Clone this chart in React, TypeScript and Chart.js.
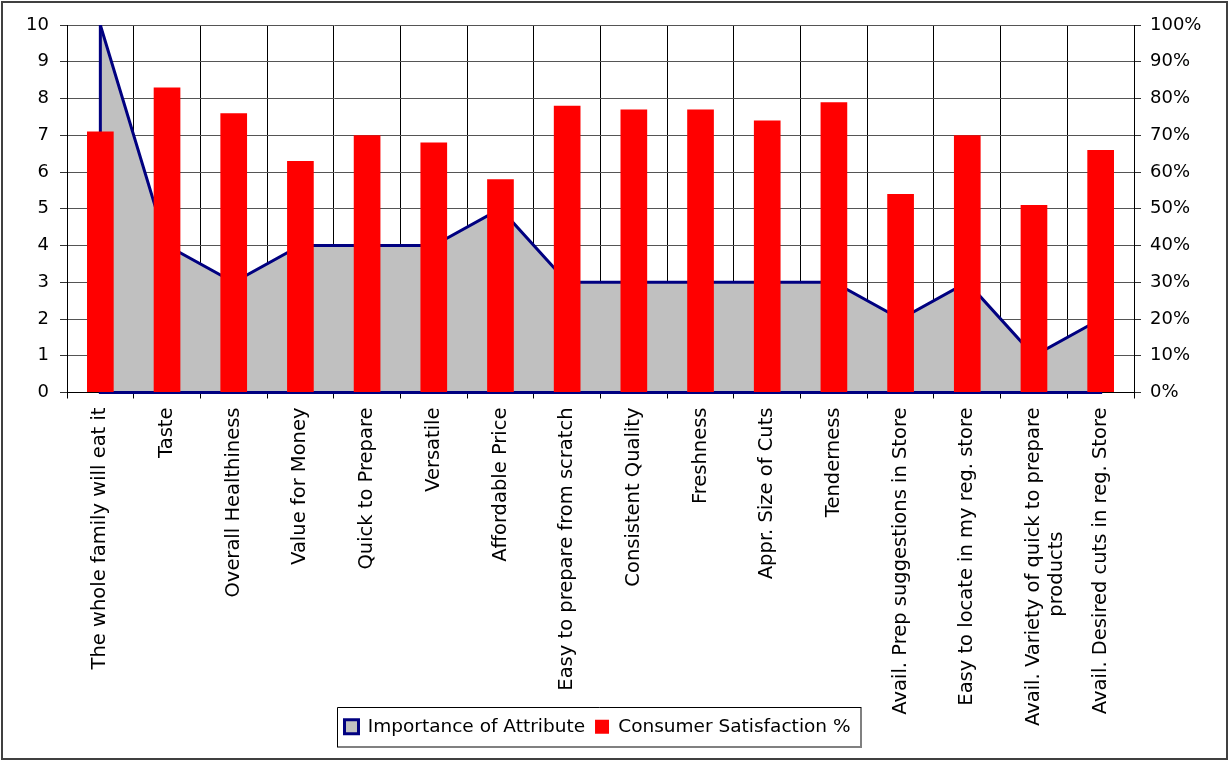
import React, { useEffect, useRef } from 'react';
import { Chart, registerables } from 'chart.js';

Chart.register(...registerables);

const categories: (string | string[])[] = [
  'The whole family will eat it',
  'Taste',
  'Overall Healthiness',
  'Value for Money',
  'Quick to Prepare',
  'Versatile',
  'Affordable Price',
  'Easy to prepare from scratch',
  'Consistent Quality',
  'Freshness',
  'Appr. Size of Cuts',
  'Tenderness',
  'Avail. Prep suggestions in Store',
  'Easy to locate in my reg. store',
  ['Avail. Variety of quick to prepare', 'products                    '],
  'Avail. Desired cuts in reg. Store',
];

const importance = [10, 4, 3, 4, 4, 4, 5, 3, 3, 3, 3, 3, 2, 3, 1, 2];
const satisfaction = [71, 83, 76, 63, 70, 68, 58, 78, 77, 77, 74, 79, 54, 70, 51, 66];

const seriesNames = ['Importance of Attribute', 'Consumer Satisfaction %'];
const leftAxis = { min: 0, max: 10, step: 1 };
const rightAxis = { min: 0, max: 100, step: 10, suffix: '%' };

const FAMILY = '"DejaVu Sans", Verdana, sans-serif';
const TICK_FONT = { family: FAMILY, size: 18 };
const CAT_FONT = { family: FAMILY, size: 19.5 };
const LEGEND_FONT = { family: FAMILY, size: 18.5 };

const areaEdges = {
  id: 'areaEdges',
  afterDatasetDraw(chart: any, args: any) {
    if (args.index !== 0) return;
    const pts = args.meta.data;
    if (!pts || !pts.length) return;
    const y0 = chart.scales.y.getPixelForValue(0);
    const ctx = chart.ctx;
    ctx.save();
    ctx.strokeStyle = '#000080';
    ctx.lineWidth = 3;
    ctx.lineJoin = 'miter';
    ctx.beginPath();
    ctx.moveTo(pts[0].x, pts[0].y);
    ctx.lineTo(pts[0].x, y0);
    ctx.lineTo(pts[pts.length - 1].x, y0);
    ctx.lineTo(pts[pts.length - 1].x, pts[pts.length - 1].y);
    ctx.stroke();
    ctx.restore();
  },
};

// let the long category labels run past the x-axis box (it is only used for clipping)
const labelRoom = {
  id: 'labelRoom',
  afterLayout(chart: any) {
    const x = chart.scales.x;
    if (x) x.bottom = chart.height;
  },
};

const LEGEND_DX = -17;
const LEGEND_DY = -10;
const legendShift = {
  id: 'legendShift',
  afterUpdate(chart: any) {
    const lg = chart.legend;
    if (!lg) return;
    lg.left += LEGEND_DX;
    lg.right += LEGEND_DX;
    lg.top += LEGEND_DY;
    lg.bottom += LEGEND_DY;
    (lg.legendHitBoxes || []).forEach((h: any) => {
      h.left += LEGEND_DX;
      h.top += LEGEND_DY;
    });
  },
};

const frames = {
  id: 'frames',
  afterDraw(chart: any) {
    const ctx = chart.ctx;
    ctx.save();
    ctx.strokeStyle = '#404040';
    ctx.lineWidth = 2;
    ctx.strokeRect(2, 2, chart.width - 4, chart.height - 3);
    const hb = chart.legend && chart.legend.legendHitBoxes;
    if (hb && hb.length) {
      const l = Math.round(Math.min(...hb.map((h: any) => h.left)) - 7);
      const r = Math.round(Math.max(...hb.map((h: any) => h.left + h.width)) + 10);
      const t = Math.round(hb[0].top - 11);
      const b = Math.round(hb[0].top + hb[0].height + 11);
      ctx.lineWidth = 2;
      ctx.strokeStyle = '#808080';
      ctx.beginPath();
      ctx.moveTo(r, t);
      ctx.lineTo(r, b);
      ctx.lineTo(l, b);
      ctx.stroke();
      ctx.lineWidth = 1;
      ctx.strokeStyle = '#000';
      ctx.beginPath();
      ctx.moveTo(l + 0.5, b);
      ctx.lineTo(l + 0.5, t + 0.5);
      ctx.lineTo(r, t + 0.5);
      ctx.stroke();
    }
    ctx.restore();
  },
};

export default function App() {
  const ref = useRef<HTMLCanvasElement | null>(null);

  useEffect(() => {
    if (!ref.current) return;
    const chart = new Chart(ref.current, {
      type: 'bar',
      data: {
        labels: categories as any,
        datasets: [
          {
            type: 'line',
            label: seriesNames[0],
            data: importance,
            yAxisID: 'y',
            fill: 'origin',
            backgroundColor: '#C0C0C0',
            borderColor: '#000080',
            borderWidth: 3,
            pointRadius: 0,
            tension: 0,
            order: 2,
          } as any,
          {
            type: 'bar',
            label: seriesNames[1],
            data: satisfaction,
            yAxisID: 'y1',
            backgroundColor: '#FF0000',
            borderWidth: 0,
            barPercentage: 0.4,
            categoryPercentage: 1,
            order: 1,
          },
        ],
      },
      options: {
        responsive: false,
        animation: false,
        layout: { padding: { top: 25, left: 0, right: 0, bottom: 4 } },
        plugins: {
          tooltip: { enabled: false },
          legend: {
            position: 'bottom',
            labels: {
              boxWidth: 14,
              boxHeight: 14,
              padding: 10,
              color: '#000',
              font: LEGEND_FONT,
              sort: (a: any, b: any) => a.datasetIndex - b.datasetIndex,
            },
          },
        },
        scales: {
          x: {
            offset: true,
            grid: { offset: true, color: '#000', lineWidth: 1, tickLength: 6, tickColor: '#000' },
            border: { color: '#000' },
            ticks: {
              autoSkip: false,
              minRotation: 90,
              maxRotation: 90,
              padding: 9,
              color: '#000',
              font: CAT_FONT,
            },
            afterFit: (s: any) => {
              s.height = 325;
            },
          },
          y: {
            position: 'left',
            min: leftAxis.min,
            max: leftAxis.max,
            grid: { color: '#555', tickLength: 7, tickColor: '#333' },
            border: { color: '#000' },
            ticks: { stepSize: leftAxis.step, padding: 11, color: '#000', font: TICK_FONT },
            afterFit: (s: any) => {
              s.width = 67;
            },
          },
          y1: {
            position: 'right',
            min: rightAxis.min,
            max: rightAxis.max,
            grid: { drawOnChartArea: false, tickLength: 7, tickColor: '#333' },
            border: { color: '#000' },
            ticks: {
              stepSize: rightAxis.step,
              padding: 9,
              color: '#000',
              font: TICK_FONT,
              callback: (v: any) => v + rightAxis.suffix,
            },
            afterFit: (s: any) => {
              s.width = 95;
            },
          },
        },
      },
      plugins: [labelRoom, legendShift, areaEdges, frames],
    });
    return () => chart.destroy();
  }, []);

  return (
    <div style={{ position: 'absolute', left: 0, top: 0, width: 1229, height: 760, background: '#fff' }}>
      <canvas ref={ref} width={1229} height={760} style={{ display: 'block' }} />
    </div>
  );
}
